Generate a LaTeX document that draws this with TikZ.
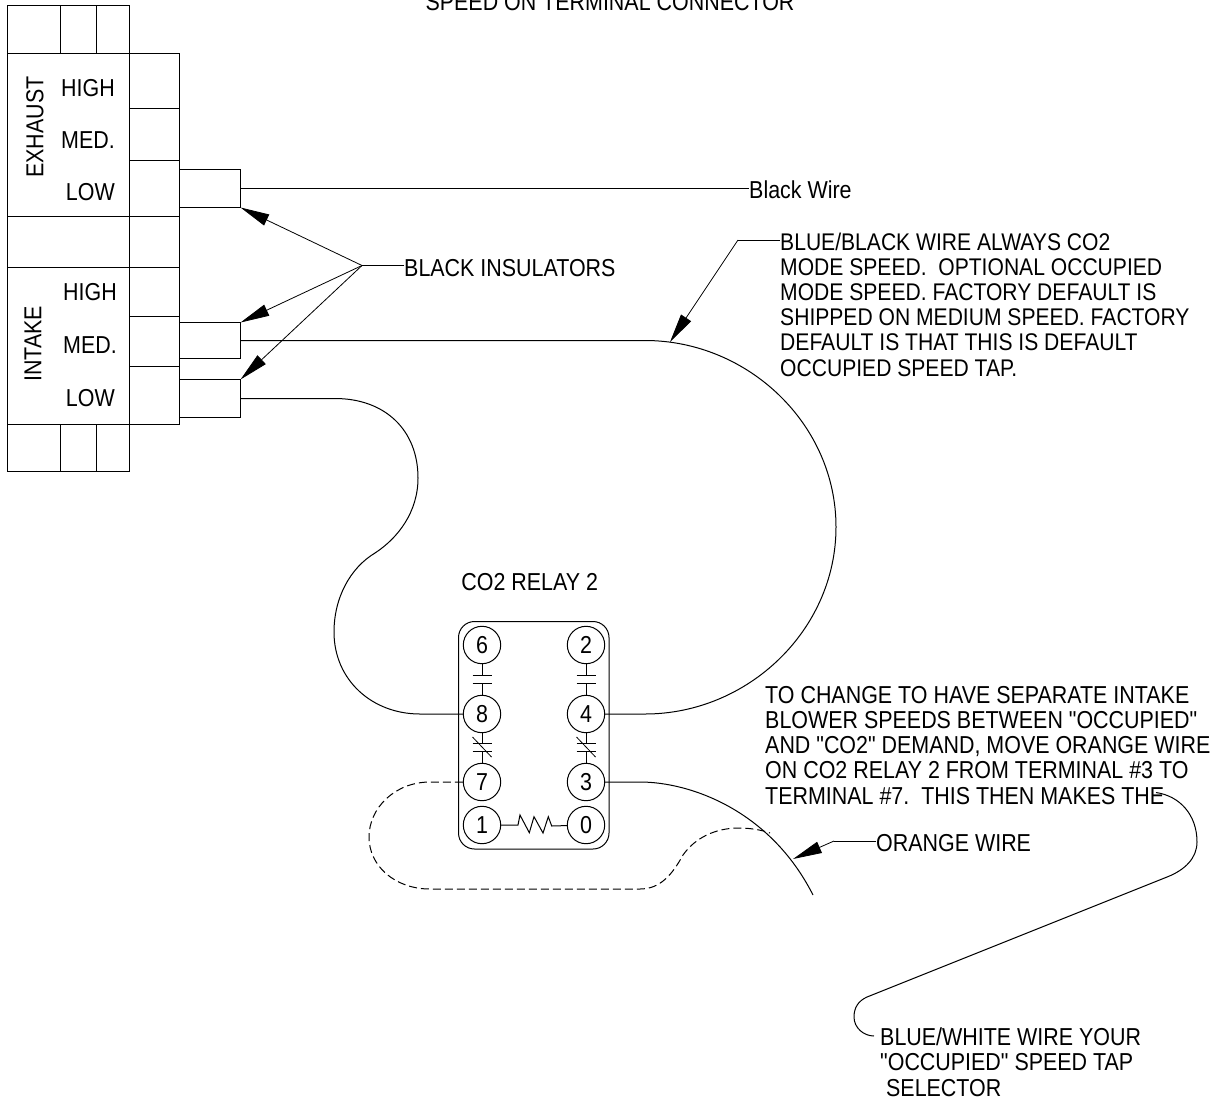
\documentclass[tikz,border=0pt]{standalone}
\usepackage{fontspec}
\setmainfont[FakeStretch=0.875, Ligatures=TeXOff]{Liberation Sans}
\usetikzlibrary{arrows.meta, positioning}

\begin{document}
\begin{tikzpicture}
  [x=1pt, y=-1pt,
   label/.style={inner sep=0pt, font=\fontsize{24.5}{25.2}\selectfont, align=left},
   caption/.style={label, anchor=base west},
   terminal/.style={circle, draw, line width=1pt, minimum size=37.4pt, inner sep=0pt, font=\fontsize{24.5}{25.2}\selectfont},
   insulator/.style={draw, line width=1pt, minimum width=61pt, inner sep=0pt, outer sep=0pt},
   wire/.style={line width=1pt},
   leader/.style={line width=0.8pt},
   tip/.style={-{Triangle[length=29pt, width=12pt]}, line width=0.8pt},
   plan/.style={draw, line width=1pt}]
  \useasboundingbox (0, 0) rectangle (1215, 1101);

  \draw [plan] (7.5, 5.5) rectangle (129.5, 471.5);
  \draw [plan] (129.5, 53.5) rectangle (179.5, 424.5);
  \foreach \y in {53.5, 216.5, 267.5, 424.5}{
    \draw [plan] (7.5, \y) -- (179.5, \y);
  }
  \foreach \y in {108.5, 160.5, 316.5, 366.5}{
    \draw [plan] (129.5, \y) -- (179.5, \y);
  }
  \foreach \x in {60.5, 96.5}{
    \draw [plan] (\x, 5.5) -- (\x, 53.5);
    \draw [plan] (\x, 424.5) -- (\x, 471.5);
  }

  \node (exhaust) at (35, 127) [label, rotate=90] {EXHAUST};
  \node (intake) at (33, 344) [label, rotate=90] {INTAKE};
  \foreach \name/\x/\y/\txt in {hi1/115/96/HIGH, me1/115/148/MED., lo1/115/200/LOW,
                               hi2/117/300/HIGH, me2/117/353/MED., lo2/115/406/LOW}{
    \node (\name) at (\x, \y) [label, anchor=base east] {\txt};
  }

  \node (insa) at (210, 188.5) [insulator, minimum height=38pt] {};
  \node (insb) at (210, 340.5) [insulator, minimum height=36pt] {};
  \node (insc) at (210, 398.5) [insulator, minimum height=38pt] {};

  \node (black) at (749, 198) [caption] {Black Wire};
  \node (insul) at (404, 276) [caption] {BLACK INSULATORS};
  \coordinate (fork) at (362, 265.5);
  \draw [wire] (insa.east) -- (black.west |- insa.east);
  \draw [wire] (insul.west |- fork) -- (fork);
  \draw [tip] (fork) -- (insa.south east);
  \draw [tip] (fork) -- (insb.north east);
  \draw [tip] (fork) -- (insc.north east);

  \node (note) at (780, 376) [caption, font=\fontsize{24.1}{25.2}\selectfont] {BLUE/BLACK WIRE ALWAYS CO2\\MODE SPEED.\ \ OPTIONAL OCCUPIED\\MODE SPEED. FACTORY DEFAULT IS\\SHIPPED ON MEDIUM SPEED. FACTORY\\DEFAULT IS THAT THIS IS DEFAULT\\OCCUPIED SPEED TAP.};
  \node (relay) at (529.7, 590) [label, anchor=base] {CO2 RELAY 2};
  \node (change) at (765, 804) [caption] {TO CHANGE TO HAVE SEPARATE INTAKE\\BLOWER SPEEDS BETWEEN "OCCUPIED"\\AND "CO2" DEMAND, MOVE ORANGE WIRE\\ON CO2 RELAY 2 FROM TERMINAL \#3 TO\\TERMINAL \#7.\ \ THIS THEN MAKES THE};
  \node (orange) at (876, 851) [caption] {ORANGE WIRE};
  \node (white) at (880, 1096) [caption] {BLUE/WHITE WIRE YOUR\\"OCCUPIED" SPEED TAP\\\ SELECTOR};
  \node (top) at (610, 10) [label, anchor=base] {SPEED ON TERMINAL CONNECTOR};

  \draw [line width=1pt, rounded corners=16pt] (458.5, 621.5) rectangle (609, 849);
  \foreach \n/\x/\y in {6/482/645, 8/482/714, 7/482/782, 1/482/825,
                        2/586/645, 4/586/714, 3/586/782, 0/586/825}{
    \node (t\n) at (\x, \y) [terminal] {\n};
  }
  \foreach \a/\b/\x in {6/8/482, 2/4/586}{
    \coordinate (c\a) at (\x, 675);
    \coordinate (c\b) at (\x, 683);
    \draw [wire] (t\a) -- (c\a);
    \draw [wire] (t\b) -- (c\b);
    \draw [leader] (\x-9.5, 675) -- (\x+9.5, 675);
    \draw [leader] (\x-9.5, 683) -- (\x+9.5, 683);
  }
  \foreach \a/\b/\x in {8/7/482, 4/3/586}{
    \coordinate (d\a) at (\x, 743);
    \coordinate (d\b) at (\x, 751);
    \draw [wire] (t\a) -- (d\a);
    \draw [wire] (t\b) -- (d\b);
    \draw [leader] (\x-9.5, 743) -- (\x+9.5, 743);
    \draw [leader] (\x-9.5, 751) -- (\x+9.5, 751);
    \draw [leader] (\x-9.5, 737) -- (\x+9.5, 757);
  }
  \draw [wire] (t1) -- (518, 825) -- (520, 815) -- (529.3, 832.7) -- (534, 816.7)
    -- (543, 833) -- (548.3, 816.7) -- (551.7, 826) -- (t0);

  \draw [wire] (insb.east) -- (645, 340.5) .. controls (748, 340.5) and (836, 424) .. (836, 527)
    .. controls (836, 630) and (748, 714) .. (645, 714) -- (t4);
  \draw [wire] (insc.east) -- (335, 398.5) .. controls (385, 398.5) and (418, 430) .. (418, 478)
    .. controls (418, 512) and (398, 538) .. (375, 553)
    .. controls (350, 568) and (334, 598) .. (334, 632)
    .. controls (334, 680) and (372, 714) .. (420, 714) -- (t8);
  \draw [wire, dash pattern=on 8pt off 4pt] (t7) -- (430, 782)
    .. controls (395, 782) and (369, 808) .. (369, 837)
    .. controls (369, 866) and (395, 889) .. (430, 889) -- (640, 889)
    .. controls (660, 889) and (672, 875) .. (683, 855)
    .. controls (695, 838) and (715, 828) .. (739, 828)
    .. controls (750, 828) and (762, 830) .. (770, 833);
  \draw [wire] (t3) -- (640, 782) .. controls (690, 782) and (770, 810) .. (813, 895);

  \coordinate (bluetip) at (670, 342);
  \coordinate (blueelbow) at (738, 240);
  \draw [leader] (note.west |- blueelbow) -- (blueelbow);
  \draw [tip] (blueelbow) -- (bluetip);
  \coordinate (orangetip) at (793, 859);
  \coordinate (orangeelbow) at (834, 841);
  \draw [leader] (orange.west |- orangeelbow) -- (orangeelbow);
  \draw [tip] (orangeelbow) -- (orangetip);

  \coordinate (theend) at (1156, 792.5);
  \coordinate (whiteend) at (874, 1036);
  \draw [wire] (theend) .. controls (1180, 796) and (1197, 815) .. (1197, 842)
    .. controls (1197, 858) and (1185, 870) .. (1167, 877) -- (867, 997)
    .. controls (858, 1001) and (854, 1008) .. (854, 1017)
    .. controls (854, 1028) and (864, 1036) .. (whiteend);
\end{tikzpicture}
\end{document}
